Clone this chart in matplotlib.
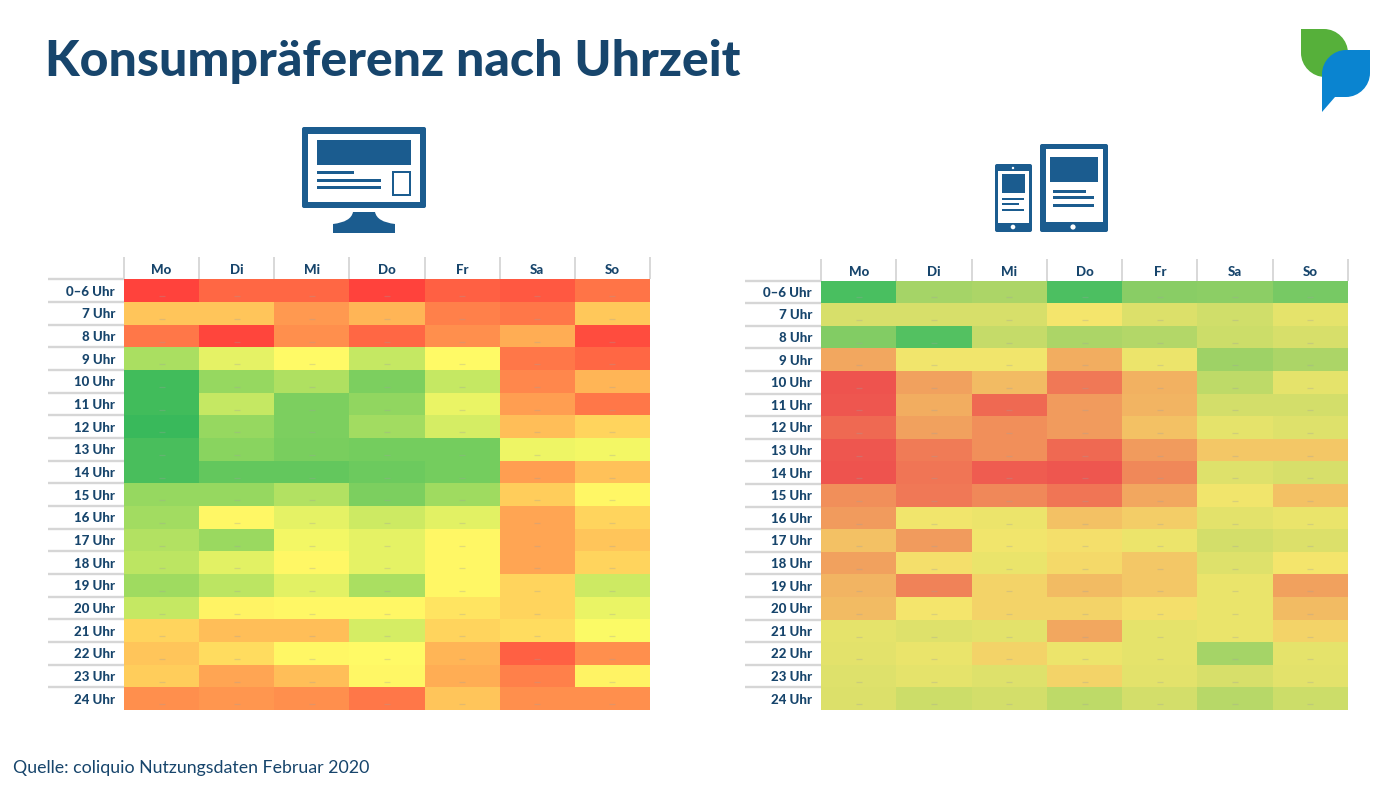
import matplotlib.pyplot as plt
import numpy as np
from matplotlib.colors import LinearSegmentedColormap
from matplotlib.patches import PathPatch, Rectangle, Circle, FancyBboxPatch
from matplotlib.path import Path

days = ['Mo', 'Di', 'Mi', 'Do', 'Fr', 'Sa', 'So']
hours = ['0–6 Uhr', '7 Uhr', '8 Uhr', '9 Uhr', '10 Uhr', '11 Uhr', '12 Uhr', '13 Uhr', '14 Uhr', '15 Uhr',
         '16 Uhr', '17 Uhr', '18 Uhr', '19 Uhr', '20 Uhr', '21 Uhr', '22 Uhr', '23 Uhr', '24 Uhr']

# 0 = green, 0.5 = yellow, 1 = red
desktop = [
    [.98, .88, .88, .98, .90, .92, .85],
    [.64, .64, .75, .68, .82, .84, .63],
    [.84, .97, .78, .88, .78, .70, .95],
    [.30, .44, .50, .36, .50, .84, .88],
    [.05, .25, .31, .19, .36, .80, .68],
    [.05, .36, .19, .24, .45, .74, .84],
    [.03, .25, .19, .28, .40, .66, .60],
    [.07, .22, .18, .17, .17, .46, .47],
    [.07, .13, .13, .15, .17, .74, .65],
    [.25, .25, .32, .19, .27, .62, .51],
    [.28, .51, .44, .38, .43, .72, .60],
    [.32, .26, .47, .44, .51, .72, .64],
    [.34, .43, .51, .44, .51, .72, .60],
    [.27, .34, .43, .30, .51, .60, .38],
    [.36, .52, .51, .51, .56, .60, .45],
    [.60, .66, .66, .40, .60, .58, .49],
    [.64, .58, .51, .50, .68, .90, .78],
    [.62, .72, .66, .51, .70, .82, .52],
    [.78, .76, .78, .84, .64, .78, .78],
]
mobile = [
    [.02, .28, .30, .03, .20, .21, .15],
    [.42, .42, .42, .50, .43, .40, .46],
    [.18, .05, .37, .30, .32, .39, .42],
    [.70, .49, .49, .68, .48, .26, .30],
    [.97, .72, .64, .85, .67, .35, .46],
    [.96, .68, .90, .74, .66, .41, .41],
    [.90, .72, .78, .74, .62, .46, .44],
    [.96, .84, .78, .90, .74, .60, .60],
    [.97, .86, .94, .96, .80, .44, .42],
    [.78, .85, .80, .86, .70, .49, .62],
    [.74, .49, .48, .62, .58, .45, .47],
    [.62, .74, .49, .52, .48, .41, .43],
    [.72, .52, .47, .54, .60, .44, .50],
    [.66, .82, .56, .64, .60, .47, .72],
    [.64, .50, .56, .56, .52, .47, .64],
    [.46, .44, .45, .70, .46, .47, .56],
    [.45, .47, .56, .48, .46, .28, .46],
    [.44, .46, .44, .56, .45, .42, .45],
    [.43, .39, .41, .35, .41, .33, .39],
]

W, H = 1400, 788
NAVY = '#17456C'
ICON = '#1B5C8F'
plt.rcParams['font.family'] = ['Lato', 'DejaVu Sans']

cmap_desktop = LinearSegmentedColormap.from_list('desk', ['#2DB55A', '#FFFB66', '#FF3A3A'])
cmap_mobile = LinearSegmentedColormap.from_list('mob', ['#42BD60', '#F4E66C', '#EE4A4C'])

fig = plt.figure(figsize=(W / 100, H / 100), dpi=100)

# overlay in pixel coordinates for title, logo and icons
bg = fig.add_axes([0, 0, 1, 1])
bg.set_xlim(0, W)
bg.set_ylim(H, 0)
bg.axis('off')


def heatmap(left, top, right, bottom, values, cmap, xpad):
    ax = fig.add_axes([left / W, 1 - bottom / H, (right - left) / W, (bottom - top) / H])
    ax.pcolormesh(np.array(values), cmap=cmap, vmin=0, vmax=1)
    ax.set_ylim(len(hours), 0)
    ax.xaxis.tick_top()
    ax.set_xticks(np.arange(len(days) + 1))
    ax.set_yticks(np.arange(len(hours)))
    ax.set_xticklabels([])
    ax.set_yticklabels([])
    ax.tick_params(axis='x', which='major', length=16, width=1.3, color='#D6D6D6')
    ax.tick_params(axis='y', which='major', length=55, width=1.7, color='#D6D6D6')
    ax.set_xticks(np.arange(len(days)) + 0.5, labels=days, minor=True)
    ax.set_yticks(np.arange(len(hours)) + 0.5, labels=hours, minor=True)
    ax.tick_params(axis='x', which='minor', length=0, pad=xpad, labelsize=9.5, labelcolor=NAVY, top=True, bottom=False)
    ax.tick_params(axis='y', which='minor', length=0, pad=6.5, labelsize=9.5, labelcolor=NAVY)
    for lab in ax.get_xticklabels(minor=True) + ax.get_yticklabels(minor=True):
        lab.set_fontweight('black')
    for s in ax.spines.values():
        s.set_visible(False)
    # the tiny unreadable grey values in each cell
    cx, cy = np.meshgrid(np.arange(len(days)) + 0.5, np.arange(len(hours)) + 0.75)
    ax.plot(cx.ravel(), cy.ravel(), ls='none', marker='_', ms=4, mew=0.9, color='#A0A0A0', alpha=0.3)
    return ax


heatmap(124, 279.5, 650, 710, desktop, cmap_desktop, 2.5)
heatmap(821, 280.5, 1348, 710, mobile, cmap_mobile, 2)

fig.text(45 / W, 1 - 75.5 / H, 'Konsumpräferenz nach Uhrzeit', fontsize=35.9, fontweight='black', color=NAVY, va='baseline')
fig.text(13 / W, 1 - 773 / H, 'Quelle: coliquio Nutzungsdaten Februar 2020', fontsize=12.8, color=NAVY, va='baseline')


def box(x0, y0, x1, y1, color=ICON, **kw):
    bg.add_patch(Rectangle((x0, y0), x1 - x0, y1 - y0, facecolor=color, edgecolor='none', **kw))


def rbox(x0, y0, x1, y1, r=2):
    bg.add_patch(FancyBboxPatch((x0 + r, y0 + r), x1 - x0 - 2 * r, y1 - y0 - 2 * r,
                                boxstyle=f'round,pad={r},rounding_size={r}', facecolor=ICON, edgecolor='none'))


# desktop monitor
rbox(302, 127, 426, 208)
box(308, 134, 420, 202, 'white')
box(317, 140, 411, 165)
box(317, 171, 354, 173.5)
box(317, 179, 381, 181.5)
box(317, 186, 381, 188.5)
box(392, 171, 411, 196)
box(394, 173, 409, 194, 'white')
stand = Path([(353, 212), (375, 212), (377, 222), (395, 224), (395, 233), (333, 233), (333, 224), (351, 222), (353, 212)],
             [Path.MOVETO, Path.LINETO, Path.CURVE3, Path.CURVE3, Path.LINETO, Path.LINETO, Path.LINETO, Path.CURVE3, Path.CURVE3])
bg.add_patch(PathPatch(stand, facecolor=ICON, edgecolor='none'))

# tablet
rbox(1040, 144, 1108, 232)
box(1046, 149, 1103, 222, 'white')
box(1050, 157, 1098, 182)
box(1053, 190, 1086, 192.5)
box(1053, 196, 1094, 198.5)
box(1053, 204, 1094, 206.5)
bg.add_patch(Circle((1073, 227), 2.6, facecolor='white', edgecolor='none'))

# phone
rbox(995, 164, 1032, 232)
box(998, 171, 1029, 223, 'white')
box(1002, 174, 1025, 193)
box(1002, 198, 1024, 200)
box(1002, 203, 1019, 205)
box(1002, 209, 1024, 211)
bg.add_patch(Circle((1013, 227), 2.3, facecolor='white', edgecolor='none'))
bg.add_patch(Circle((1013, 168), 1.2, facecolor='white', edgecolor='none'))

# logo
C4 = Path.CURVE4
green = Path([(1301, 29), (1324, 29), (1337, 29), (1348, 40), (1348, 53), (1348, 77), (1325, 77),
              (1312, 77), (1301, 66), (1301, 53), (1301, 29)],
             [Path.MOVETO, Path.LINETO, C4, C4, C4, Path.LINETO, Path.LINETO, C4, C4, C4, Path.CLOSEPOLY])
bg.add_patch(PathPatch(green, facecolor='#56B03A', edgecolor='none'))
blue = Path([(1370, 50), (1346, 50), (1333, 50), (1322, 61), (1322, 74), (1322, 112), (1335, 97), (1346, 97),
             (1359, 97), (1370, 86), (1370, 73), (1370, 50)],
            [Path.MOVETO, Path.LINETO, C4, C4, C4, Path.LINETO, Path.LINETO, Path.LINETO, C4, C4, C4, Path.CLOSEPOLY])
bg.add_patch(PathPatch(blue, facecolor='#0A84D0', edgecolor='none'))

fig.savefig('out.png', dpi=100)
